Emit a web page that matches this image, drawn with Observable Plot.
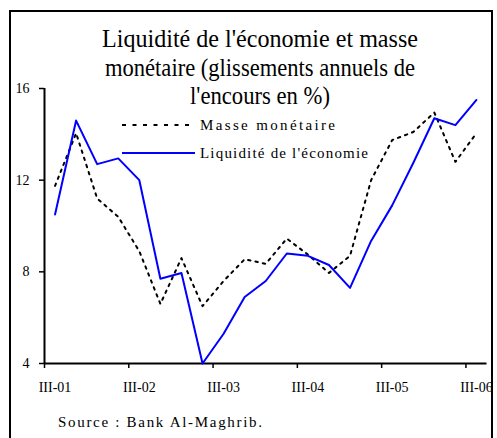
<!DOCTYPE html>
<html>
<head>
<meta charset="utf-8">
<script src="https://cdn.jsdelivr.net/npm/d3@7"></script>
<script src="https://cdn.jsdelivr.net/npm/@observablehq/plot@0.6"></script>
<style>
  html, body { margin: 0; padding: 0; background: #fff; }
  #wrap { position: relative; width: 497px; height: 438px; overflow: hidden; font-family: "Liberation Serif", "Times New Roman", Times, serif; }
  #frame { position: absolute; left: 9px; top: 10px; width: 480px; height: 460px; border: 2px solid #000; box-sizing: content-box; }
  #chart { position: absolute; left: 0; top: 0; }
  #overlay { position: absolute; left: 0; top: 0; font-family: "Liberation Serif", "Times New Roman", Times, serif; }
  svg text { font-family: "Liberation Serif", "Times New Roman", Times, serif; }
</style>
</head>
<body>
<div id="wrap">
  <div id="frame"></div>
  <div id="chart"></div>
  <svg id="overlay" width="497" height="438"></svg>
</div>
<script>
// Quarterly data, Q3 2001 .. Q3 2006
const quarters = d3.range(21);
const liquidite = [10.5, 14.6, 12.7, 12.95, 12.0, 7.7, 7.95, 4.0, 5.3, 6.9, 7.6, 8.8, 8.7, 8.3, 7.3, 9.35, 10.9, 12.75, 14.7, 14.4, 15.5];
const masse = [11.75, 14.05, 11.2, 10.4, 8.9, 6.6, 8.6, 6.5, 7.6, 8.55, 8.35, 9.45, 8.75, 7.95, 8.7, 12.0, 13.75, 14.1, 14.95, 12.8, 14.05];
const xLabelPositions = [0, 4, 8, 12, 16, 20];
const xLabels = ["III-01", "III-02", "III-03", "III-04", "III-05", "III-06"];
const xTickPositions = [-0.5, 3.5, 7.5, 11.5, 15.5, 19.5];
const yTicks = [4, 8, 12, 16];
const titleLines = ["Liquidité de l'économie et masse", "monétaire (glissements annuels de", "l'encours en %)"];
const seriesNames = ["Masse monétaire", "Liquidité de l'économie"];
const sourceText = "Source : Bank Al-Maghrib.";

const dataL = quarters.map((q, i) => ({q, v: liquidite[i]}));
const dataM = quarters.map((q, i) => ({q, v: masse[i]}));
const FONT = "'Liberation Serif', 'Times New Roman', Times, serif";

const plot = Plot.plot({
  width: 497,
  height: 438,
  marginLeft: 44,
  marginRight: 10.5,
  marginTop: 88,
  marginBottom: 75,
  style: {fontFamily: FONT, fontSize: "14px", color: "#000", background: "transparent", overflow: "visible"},
  x: {domain: [-0.5, 20.5], axis: null},
  y: {domain: [4, 16], axis: null},
  marks: [
    Plot.axisY({ticks: yTicks, label: null, tickSize: 5, tickPadding: 10, strokeWidth: 1.5, fontSize: 14, tickFormat: d => d}),
    Plot.axisX({ticks: xTickPositions, label: null, tickSize: 5, strokeWidth: 1.5, tickFormat: () => ""}),
    Plot.axisX({ticks: xLabelPositions, label: null, tickSize: 0, tickPadding: 19, fontSize: 14, tickFormat: d => xLabels[xLabelPositions.indexOf(d)]}),
    Plot.ruleY([4], {stroke: "#000", strokeWidth: 2}),
    Plot.ruleX([-0.5], {stroke: "#000", strokeWidth: 2}),
    Plot.line(dataM, {x: "q", y: "v", stroke: "#000", strokeWidth: 2, strokeDasharray: "2.5,5"}),
    Plot.line(dataL, {x: "q", y: "v", stroke: "#0000ff", strokeWidth: 2})
  ]
});
document.getElementById("chart").appendChild(plot);

// Titles, legend, source
const ov = d3.select("#overlay");
const titleSpecs = [{cx: 260, y: 47, len: 316}, {cx: 260, y: 75.5, len: 310}, {cx: 260, y: 104, len: 140}];
titleLines.forEach((t, i) => {
  ov.append("text").attr("x", titleSpecs[i].cx).attr("y", titleSpecs[i].y)
    .attr("text-anchor", "middle").attr("font-size", 25)
    .style("font-family", FONT)
    .attr("textLength", titleSpecs[i].len).attr("lengthAdjust", "spacingAndGlyphs")
    .text(t);
});
const legendSpecs = [{y: 125, len: 135, stroke: "#000", dash: "4,6.5"}, {y: 153, len: 168, stroke: "#0000ff", dash: null}];
seriesNames.forEach((n, i) => {
  const s = legendSpecs[i];
  const l = ov.append("line").attr("x1", 122).attr("x2", 195).attr("y1", s.y).attr("y2", s.y)
    .attr("stroke", s.stroke).attr("stroke-width", 2);
  if (s.dash) l.attr("stroke-dasharray", s.dash);
  ov.append("text").attr("x", 200).attr("y", s.y + 5).attr("font-size", 15)
    .style("font-family", FONT)
    .attr("textLength", s.len).attr("lengthAdjust", "spacing").text(n);
});
ov.append("text").attr("x", 58).attr("y", 427).attr("font-size", 15)
  .style("font-family", FONT)
  .attr("textLength", 204).attr("lengthAdjust", "spacing").text(sourceText);
</script>
</body>
</html>
